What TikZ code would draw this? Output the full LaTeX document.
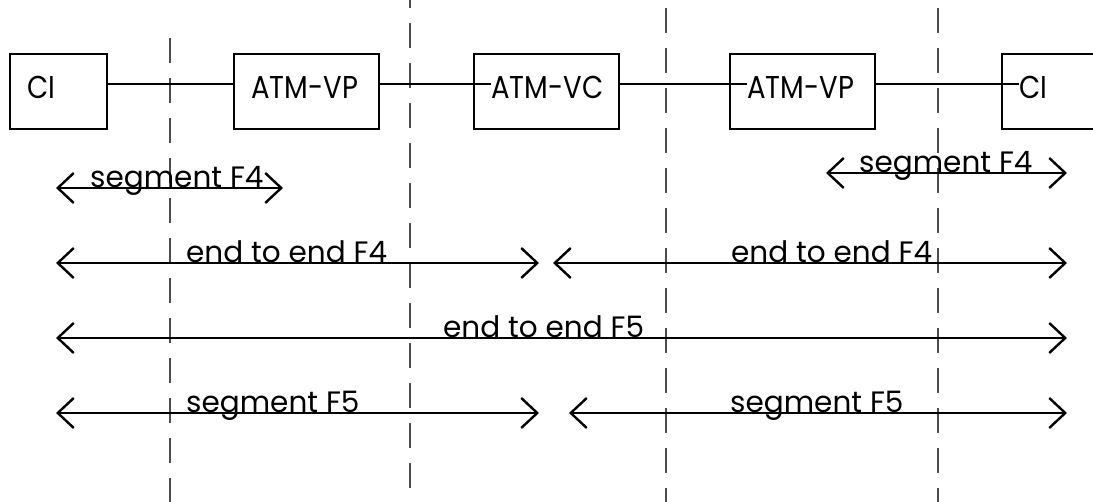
\documentclass[tikz,border=0pt]{standalone}
\usepackage{fontspec}
\setmainfont{Poppins}
\usetikzlibrary{arrows.meta,calc}

\tikzset{
  unitbox/.style={draw, line width=2.4pt, inner sep=0pt, minimum height=75pt},
  boxtext/.style={anchor=base west, inner sep=0pt, font=\fontsize{27.5}{33}\selectfont},
  lbl/.style={anchor=base west, inner sep=0pt, font=\fontsize{29.5}{35}\selectfont},
  wire/.style={line width=2.4pt},
  span/.style={line width=2.4pt, {Straight Barb[length=16pt,width=30pt]}-{Straight Barb[length=16pt,width=30pt]}},
  divider/.style={line width=1.1pt, black!70, dash pattern=on 25pt off 15pt},
}
\newcommand\tallbox[1]{\scalebox{1}[1.15]{#1}}

\begin{document}
\begin{tikzpicture}[x=1pt, y=-1pt]
  \fill[white] (0,0) rectangle (1093,502);
  \useasboundingbox (0,0) rectangle (1093,502);

  % domain boundaries
  \coordinate (d1t) at (170,38);  \coordinate (d1b) at (170,502);
  \coordinate (d2t) at (410,0);   \coordinate (d2b) at (410,502);
  \coordinate (d3t) at (666,8);   \coordinate (d3b) at (666,502);
  \coordinate (d4t) at (938,8);   \coordinate (d4b) at (938,502);
  \draw[divider] (d1t) -- (d1b);
  \draw[divider, dash phase=17pt] (d2t) -- (d2b);
  \draw[divider] (d3t) -- (d3b);
  \draw[divider] (d4t) -- (d4b);

  % network elements
  \node[unitbox, anchor=north west, minimum width=97pt]  (ci1) at (9,53) {};
  \node[unitbox, anchor=north west, minimum width=145pt] (vp1) at (233,53) {};
  \node[unitbox, anchor=north west, minimum width=145pt] (vc)  at (473,53) {};
  \node[unitbox, anchor=north west, minimum width=145pt] (vp2) at (729,53) {};
  \node[unitbox, anchor=north west, minimum width=120pt] (ci2) at (1001,53) {};

  \node[boxtext] (tci1) at ($(ci1.north west)+(18,46)$) {\tallbox{CI}};
  \node[boxtext] (tvp1) at ($(vp1.north west)+(18,46)$) {\tallbox{ATM-VP}};
  \node[boxtext] (tvc)  at ($(vc.north west)+(18,46)$)  {\tallbox{ATM-VC}};
  \node[boxtext] (tvp2) at ($(vp2.north west)+(18,46)$) {\tallbox{ATM-VP}};
  \node[boxtext] (tci2) at ($(ci2.north west)+(18,46)$) {\tallbox{CI}};

  % links
  \coordinate (lvc)  at ($(vc.north west)!0.4!(vc.south west)$);
  \coordinate (lvp2) at ($(vp2.north west)!0.4!(vp2.south west)$);
  \coordinate (lci2) at ($(ci2.north west)!0.4!(ci2.south west)$);
  \draw[wire] ($(ci1.north east)!0.4!(ci1.south east)$) -- ($(vp1.north west)!0.4!(vp1.south west)$);
  \draw[wire] ($(vp1.north east)!0.4!(vp1.south east)$) -- (tvc.west |- lvc);
  \draw[wire] ($(vc.north east)!0.4!(vc.south east)$) -- (tvp2.west |- lvp2);
  \draw[wire] ($(vp2.north east)!0.4!(vp2.south east)$) -- (tci2.west |- lci2);

  % OAM flow spans
  \coordinate (s4a) at (56,188);  \coordinate (s4b) at (283,188);
  \coordinate (s4c) at (826,173); \coordinate (s4d) at (1067,173);
  \coordinate (e4a) at (56,263);  \coordinate (e4b) at (539,263);
  \coordinate (e4c) at (553,263); \coordinate (e4d) at (1067,263);
  \coordinate (e5a) at (56,338);  \coordinate (e5b) at (1067,338);
  \coordinate (s5a) at (56,413);  \coordinate (s5b) at (539,413);
  \coordinate (s5c) at (569,413); \coordinate (s5d) at (1067,413);

  \draw[span] (s4a) -- (s4b);
  \draw[span] (s4c) -- (s4d);
  \draw[span] (e4a) -- (e4b);
  \draw[span] (e4c) -- (e4d);
  \draw[span] (e5a) -- (e5b);
  \draw[span] (s5a) -- (s5b);
  \draw[span] (s5c) -- (s5d);

  \node[lbl] (ls4l) at (90,188)  {segment F4};
  \node[lbl] (ls4r) at (859,173) {segment F4};
  \node[lbl] (le4l) at (186,263) {end to end F4};
  \node[lbl] (le4r) at (731,263) {end to end F4};
  \node[lbl] (le5)  at (443,338) {end to end F5};
  \node[lbl] (ls5l) at (186,413) {segment F5};
  \node[lbl] (ls5r) at (730,413) {segment F5};
\end{tikzpicture}
\end{document}
